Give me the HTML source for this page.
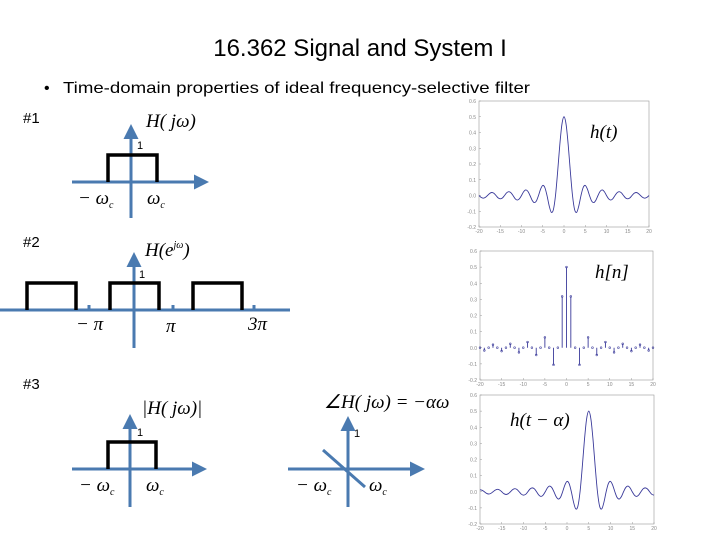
<!DOCTYPE html>
<html><head><meta charset="utf-8"><style>
body{margin:0;background:#fff;}
svg{display:block;font-family:"Liberation Sans",sans-serif;}
.ax{stroke:#4a7ab0;stroke-width:3;fill:none}
.rc{stroke:#000;stroke-width:3.5;fill:none}
.m{font-family:"Liberation Serif",serif;font-style:italic;font-size:19px}
.tk{font-size:5px;fill:#888}
</style></head><body>
<svg id="s" width="720" height="540" viewBox="0 0 720 540">
<defs><marker id="ar" markerWidth="6" markerHeight="6" refX="3" refY="3" orient="auto" markerUnits="strokeWidth"><path d="M0,0.5 L5,3 L0,5.5z" fill="#4a7ab0"/></marker></defs>
<text x="360" y="56" text-anchor="middle" font-size="24">16.362 Signal and System I</text>
<text x="44" y="93" font-size="16">•</text>
<text x="63" y="93" font-size="16" textLength="467" lengthAdjust="spacingAndGlyphs">Time-domain properties of ideal frequency-selective filter</text>
<text x="23" y="123" font-size="15">#1</text>
<text x="23" y="247" font-size="15">#2</text>
<text x="23" y="389" font-size="15">#3</text>

<g>
<line class="ax" x1="72" y1="182" x2="203" y2="182" marker-end="url(#ar)"/>
<line class="ax" x1="131" y1="218" x2="131" y2="130" marker-end="url(#ar)"/>
<polyline class="rc" points="108,182 108,155 157,155 157,182"/>
<text x="137" y="149" font-size="11">1</text>
<text x="146" y="127" class="m">H( jω)</text>
<text x="78" y="204" class="m">− ω<tspan font-size="10" dy="4">c</tspan></text>
<text x="147" y="204" class="m">ω<tspan font-size="10" dy="4">c</tspan></text>
</g>

<g>
<line class="ax" x1="0" y1="310" x2="290" y2="310"/>
<line class="ax" x1="134" y1="348" x2="134" y2="258" marker-end="url(#ar)"/>
<polyline class="rc" points="27,310 27,283 76,283 76,310"/>
<polyline class="rc" points="110,310 110,283 159,283 159,310"/>
<polyline class="rc" points="193,310 193,283 242,283 242,310"/>
<line class="ax" x1="89" y1="305" x2="89" y2="310"/><line class="ax" x1="173" y1="305" x2="173" y2="310"/><line class="ax" x1="254" y1="305" x2="254" y2="310"/>
<text x="139" y="278" font-size="11">1</text>
<text x="145" y="256" class="m">H(e<tspan font-size="10" dy="-8">jω</tspan><tspan dy="8">)</tspan></text>
<text x="76" y="330" class="m">− π</text>
<text x="166" y="332" class="m">π</text>
<text x="248" y="330" class="m">3π</text>
</g>

<g>
<line class="ax" x1="72" y1="469" x2="201" y2="469" marker-end="url(#ar)"/>
<line class="ax" x1="130" y1="507" x2="130" y2="420" marker-end="url(#ar)"/>
<polyline class="rc" points="108,469 108,442 156,442 156,469"/>
<text x="137" y="436" font-size="11">1</text>
<text x="142" y="414" class="m">|H( jω)|</text>
<text x="79" y="491" class="m">− ω<tspan font-size="10" dy="4">c</tspan></text>
<text x="146" y="491" class="m">ω<tspan font-size="10" dy="4">c</tspan></text>
</g>

<g>
<line class="ax" x1="288" y1="469" x2="419" y2="469" marker-end="url(#ar)"/>
<line class="ax" x1="348" y1="507" x2="348" y2="422" marker-end="url(#ar)"/>
<line class="ax" x1="323" y1="450" x2="365" y2="487"/>
<text x="354" y="437" font-size="11">1</text>
<text x="324" y="408" class="m">∠H( jω) = −αω</text>
<text x="296" y="491" class="m">− ω<tspan font-size="10" dy="4">c</tspan></text>
<text x="369" y="491" class="m">ω<tspan font-size="10" dy="4">c</tspan></text>
</g>
<g id="plots"></g>
</svg>
<script>
const tVals=[0,0.5,1,1.5,2,2.5,3,3.5,4,4.5,5,5.5,6,6.5,7,7.5,8,8.5,9,9.5,10,10.5,11,11.5,12,12.5,13,13.5,14,14.5,15,15.5,16,16.5,17,17.5,18,18.5,19,19.5,20,20.5,21,21.5,22,22.5,23,23.5,24,24.5,25,25.5];
const hVals=[0.5,0.45,0.318,0.15,0,-0.09,-0.106,-0.064,0,0.05,0.064,0.041,0,-0.035,-0.045,-0.03,0,0.026,0.035,0.024,0,-0.021,-0.029,-0.02,0,0.018,0.024,0.017,0,-0.016,-0.021,-0.015,0,0.014,0.019,0.013,0,-0.012,-0.017,-0.012,0,0.011,0.015,0.010,0,-0.010,-0.014,-0.0096,0,0.009,0.0127,0.0088];
const nVals=[0,1,2,3,4,5,6,7,8,9,10,11,12,13,14,15,16,17,18,19,20];
const hnVals=[0.5,0.318,0,-0.106,0,0.064,0,-0.045,0,0.035,0,-0.029,0,0.024,0,-0.021,0,0.019,0,-0.017,0];
const alpha=5;
const xTicks=[-20,-15,-10,-5,0,5,10,15,20];
const yTicks=[-0.2,-0.1,0,0.1,0.2,0.3,0.4,0.5,0.6];
const NS='http://www.w3.org/2000/svg';
const root=document.getElementById('plots');
function mk(tag,attrs,parent){const e=document.createElementNS(NS,tag);for(const k in attrs)e.setAttribute(k,attrs[k]);parent.appendChild(e);return e;}
function frame(L,R,T,B,name,label,lx,ly){
 const g=mk('g',{},root);
 
 
 const sx=v=>L+(v+20)/40*(R-L), sy=v=>B-(v+0.2)/0.8*(B-T);
 mk('rect',{x:L,y:T,width:R-L,height:B-T,fill:'none',stroke:'#999','stroke-width':0.6},g);
 xTicks.forEach(v=>{mk('line',{x1:sx(v),x2:sx(v),y1:B,y2:B-2,stroke:'#999','stroke-width':0.5},g);const t=mk('text',{x:sx(v),y:B+6,'text-anchor':'middle',class:'tk'},g);t.textContent=v;});
 yTicks.forEach(v=>{mk('line',{x1:L,x2:L+2,y1:sy(v),y2:sy(v),stroke:'#999','stroke-width':0.5},g);const t=mk('text',{x:L-3,y:sy(v)+2,'text-anchor':'end',class:'tk'},g);t.textContent=v.toFixed(1);});
 const lab=mk('text',{x:lx,y:ly,class:'m','font-size':'23'},g);lab.textContent=label;
 return {g,sx,sy};
}
function curve(f,shift){
 const pts=[];
 for(let i=tVals.length-1;i>0;i--)pts.push([-tVals[i]+shift,hVals[i]]);
 for(let i=0;i<tVals.length;i++)pts.push([tVals[i]+shift,hVals[i]]);
 const p=pts.filter(q=>q[0]>=-20&&q[0]<=20).map(q=>[f.sx(q[0]),f.sy(q[1])]);
 let d='M'+p[0][0]+','+p[0][1];
 for(let i=0;i<p.length-1;i++){const p0=p[i-1]||p[i],p1=p[i],p2=p[i+1],p3=p[i+2]||p2;
  d+=' C'+(p1[0]+(p2[0]-p0[0])/6)+','+(p1[1]+(p2[1]-p0[1])/6)+' '+(p2[0]-(p3[0]-p1[0])/6)+','+(p2[1]-(p3[1]-p1[1])/6)+' '+p2[0]+','+p2[1];}
 const c=mk('path',{d:d,fill:'none',stroke:'#3a3a9a','stroke-width':0.9},f.g);
 
 
}
const f1=frame(479,649,101,227,'plot-h-t','h(t)',590,138);
curve(f1,0);
const f3=frame(480,654,395,524,'plot-h-t-shifted','h(t − α)',510,426);
curve(f3,alpha);
const f2=frame(480,653,251,380,'plot-h-n','h[n]',595,278);
const stems=[];
for(let i=nVals.length-1;i>0;i--)stems.push([-nVals[i],hnVals[i]]);
for(let i=0;i<nVals.length;i++)stems.push([nVals[i],hnVals[i]]);
stems.forEach(s=>{
 const x=f2.sx(s[0]);
 const ln=mk('line',{x1:x,x2:x,y1:f2.sy(0),y2:f2.sy(s[1]),stroke:'#3a3a9a','stroke-width':0.9},f2.g);
 
 
 const c=mk('circle',{cx:x,cy:f2.sy(s[1]),r:0.9,fill:'none',stroke:'#3a3a9a','stroke-width':0.6},f2.g);
 
 
});
</script>
</body></html>
